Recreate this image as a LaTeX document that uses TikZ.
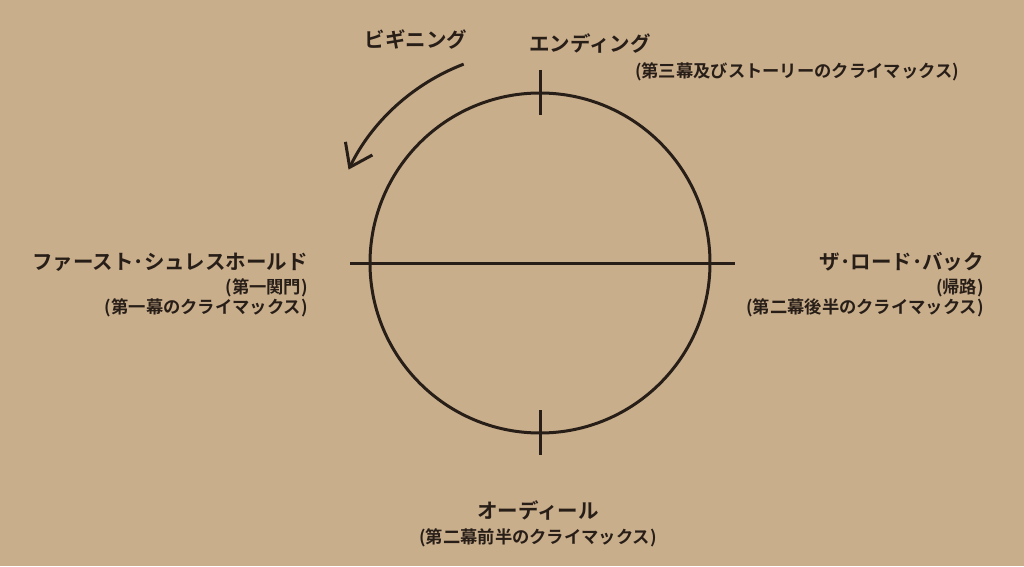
\documentclass[tikz,border=0pt]{standalone}
\usepackage{fontspec}
\newfontfamily\jp{Noto Sans CJK JP}[BoldFont={Noto Sans CJK JP Bold}]
\usetikzlibrary{arrows.meta}
\definecolor{paper}{RGB}{201,174,140}
\definecolor{ink}{RGB}{40,30,24}

\begin{document}
\begin{tikzpicture}[x=1pt,y=1pt,
    title/.style={font=\jp\bfseries\fontsize{20.5}{24}\selectfont, text=ink, inner sep=0pt},
    note/.style={font=\jp\bfseries\fontsize{17.3}{20}\selectfont, text=ink, inner sep=0pt},
    stroke/.style={draw=ink, line width=3pt}]
    \fill[paper] (0,0) rectangle (1024,566);
    \coordinate (c) at (540,303);
    \coordinate (west) at (350,303);
    \coordinate (east) at (735,303);
    \coordinate (toptick a) at (540,496);
    \coordinate (toptick b) at (540,451);
    \coordinate (bottick a) at (540,156);
    \coordinate (bottick b) at (540,111);
    \draw[stroke] (c) circle (170);
    \draw[stroke] (west) -- (east);
    \draw[stroke] (toptick a) -- (toptick b);
    \draw[stroke] (bottick a) -- (bottick b);
    \draw[stroke, -{Straight Barb[length=21pt,width=30pt,line width=3pt]}]
        ([shift={(111:213)}]c) arc (111:154:213);
    \node[title] (beginning) at (416,526) {ビギニング};
    \node[title] (ending) at (590,522) {エンディング};
    \node[note] (endingnote) at (797,494) {(第三幕及びストーリーのクライマックス)};
    \node[title, anchor=east] (threshold) at (308,304) {ファースト･シュレスホールド};
    \node[note, anchor=east] (thresholdsub) at (308,278) {(第一関門)};
    \node[note, anchor=east] (thresholdnote) at (308,258) {(第一幕のクライマックス)};
    \node[title, anchor=east] (roadback) at (984,304) {ザ･ロード･バック};
    \node[note, anchor=east] (roadbacksub) at (984,278) {(帰路)};
    \node[note, anchor=east] (roadbacknote) at (984,258) {(第二幕後半のクライマックス)};
    \node[title] (ordeal) at (538,56) {オーディール};
    \node[note] (ordealnote) at (538,28) {(第二幕前半のクライマックス)};
\end{tikzpicture}
\end{document}
